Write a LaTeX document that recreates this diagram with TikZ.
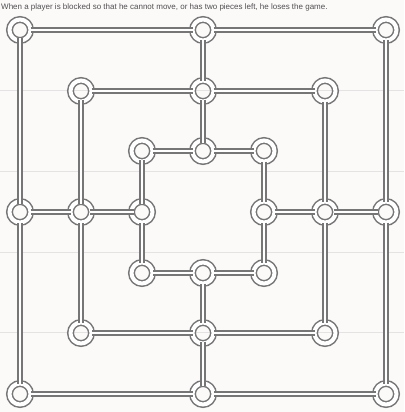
\documentclass[tikz,border=0pt]{standalone}
\usepackage{fontspec}
\setmainfont{Liberation Sans}
\usepackage{tikz}
\usetikzlibrary{positioning}
\usepackage{xcolor}
\definecolor{boardgray}{RGB}{118,118,118}
\definecolor{paper}{RGB}{252,249,249}
\definecolor{ruleline}{RGB}{228,226,226}
\definecolor{inkgray}{RGB}{80,80,80}

\begin{document}
\begin{tikzpicture}[x=1pt, y=-1pt,
        hole/.style={circle, draw=boardgray, line width=1.5pt, double=white, double distance=4pt, minimum size=21pt, inner sep=0pt, outer sep=0pt},
        groove/.style={draw=boardgray, line width=1.5pt, double=white, double distance=2.5pt, shorten <=-2pt, shorten >=-2pt},
        ruling/.style={draw=ruleline, line width=1pt}
    ]
        \fill[paper] (0,0) rectangle (404,412);
        \useasboundingbox (0,0) rectangle (404,412);
        \draw[ruling] (0,90) -- (404,90);
        \draw[ruling] (0,171) -- (404,171);
        \draw[ruling] (0,252) -- (404,252);
        \draw[ruling] (0,332) -- (404,332);

        \node[anchor=base west, text=inkgray, font=\fontsize{8}{9}\selectfont, inner sep=0pt] (rule) at (1,10) {When a player is blocked so that he cannot move, or has two pieces left, he loses the game.};

        \node[hole] (oTL) at (20,30) {};
        \node[hole] (oT) at (203,30) {};
        \node[hole] (oTR) at (386,30) {};
        \node[hole] (oL) at (20,212) {};
        \node[hole] (oR) at (386,212) {};
        \node[hole] (oBL) at (20,394) {};
        \node[hole] (oB) at (203,394) {};
        \node[hole] (oBR) at (386,394) {};

        \node[hole] (mTL) at (81,91) {};
        \node[hole] (mT) at (203,91) {};
        \node[hole] (mTR) at (325,91) {};
        \node[hole] (mL) at (81,212) {};
        \node[hole] (mR) at (325,212) {};
        \node[hole] (mBL) at (81,333) {};
        \node[hole] (mB) at (203,333) {};
        \node[hole] (mBR) at (325,333) {};

        \node[hole] (iTL) at (142,151) {};
        \node[hole] (iT) at (203,151) {};
        \node[hole] (iTR) at (264,151) {};
        \node[hole] (iL) at (142,212) {};
        \node[hole] (iR) at (264,212) {};
        \node[hole] (iBL) at (142,273) {};
        \node[hole] (iB) at (203,273) {};
        \node[hole] (iBR) at (264,273) {};

        \draw[groove] (oTL) -- (oT) -- (oTR) -- (oR) -- (oBR) -- (oB) -- (oBL) -- (oL) -- (oTL);
        \draw[groove] (mTL) -- (mT) -- (mTR) -- (mR) -- (mBR) -- (mB) -- (mBL) -- (mL) -- (mTL);
        \draw[groove] (iTL) -- (iT) -- (iTR) -- (iR) -- (iBR) -- (iB) -- (iBL) -- (iL) -- (iTL);
        \draw[groove] (oT) -- (mT) -- (iT);
        \draw[groove] (oL) -- (mL) -- (iL);
        \draw[groove] (iR) -- (mR) -- (oR);
        \draw[groove] (iB) -- (mB) -- (oB);
    \end{tikzpicture}
\end{document}
